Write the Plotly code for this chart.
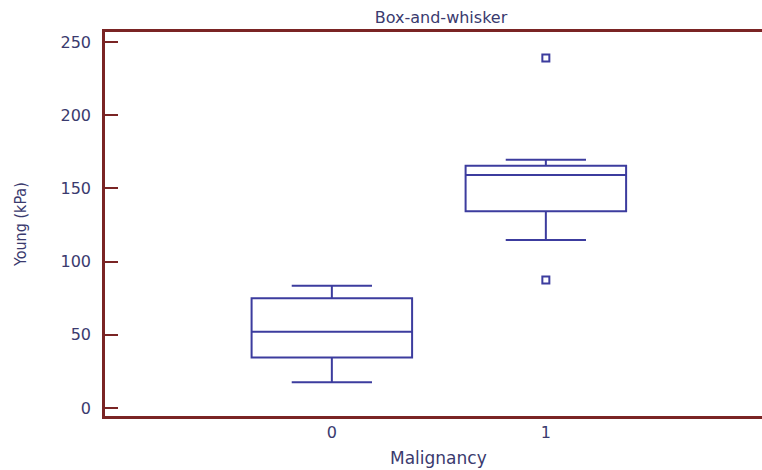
import plotly.graph_objects as go

# Data
categories = [0, 1]
q1_vals = [34.4, 134.3]
median_vals = [52.1, 159.2]
q3_vals = [74.9, 165.5]
lower_whisker = [17.5, 114.8]
upper_whisker = [83.5, 169.6]
outlier_x = [1, 1]
outlier_y = [239.1, 87.4]
y_ticks = [0, 50, 100, 150, 200, 250]
x_tick_labels = ["0", "1"]

AXIS = "#7a2424"
TEXT = "#3a3a6e"
BOX = "#3c3c9e"
FONT = "DejaVu Sans, Verdana, sans-serif"
NARROW = "Liberation Sans Narrow, DejaVu Sans Condensed, sans-serif"

fig = go.Figure()
fig.add_trace(go.Box(
    x=categories,
    q1=q1_vals,
    median=median_vals,
    q3=q3_vals,
    lowerfence=lower_whisker,
    upperfence=upper_whisker,
    width=0.75,
    whiskerwidth=0.5,
    boxpoints=False,
    line=dict(color=BOX, width=2),
    fillcolor="rgba(255,255,255,0)",
    showlegend=False,
    hoverinfo="skip",
))
fig.add_trace(go.Scatter(
    x=outlier_x,
    y=outlier_y,
    mode="markers",
    marker=dict(symbol="square-open", size=7, color=BOX, line=dict(width=2, color=BOX)),
    showlegend=False,
    hoverinfo="skip",
))

fig.update_layout(
    width=762,
    height=470,
    margin=dict(l=105, r=0, t=32, b=54, autoexpand=False),
    paper_bgcolor="white",
    plot_bgcolor="white",
    font=dict(family=FONT, size=16, color=TEXT),
    title=dict(
        text="Box-and-whisker",
        x=441 / 762,
        xanchor="center",
        y=1 - 17 / 470,
        yanchor="middle",
        font=dict(family=FONT, size=16, color=TEXT),
    ),
    xaxis=dict(
        range=[-1.06, 2.01],
        tickmode="array",
        tickvals=categories,
        ticktext=x_tick_labels,
        ticks="",
        showgrid=False,
        zeroline=False,
        showline=True,
        linecolor=AXIS,
        linewidth=2.5,
        mirror=True,
        automargin=False,
        tickfont=dict(family=FONT, size=16, color=TEXT),
    ),
    yaxis=dict(
        range=[-5.5, 256.8],
        tickmode="array",
        tickvals=y_ticks,
        ticks="inside",
        ticklen=13,
        tickwidth=2,
        tickcolor=AXIS,
        ticklabelstandoff=8,
        showgrid=False,
        zeroline=False,
        showline=True,
        linecolor=AXIS,
        linewidth=2.5,
        automargin=False,
        tickfont=dict(family=FONT, size=16, color=TEXT),
    ),
    annotations=[
        dict(
            text="Malignancy", xref="paper", yref="paper",
            x=(438 - 105) / 657, y=-(458 - 416) / 384,
            xanchor="center", yanchor="middle", showarrow=False,
            font=dict(family=FONT, size=17, color=TEXT),
        ),
        dict(
            text="Young (kPa)", xref="paper", yref="paper",
            x=-(105 - 20) / 657, y=(416 - 225) / 384,
            xanchor="center", yanchor="middle", showarrow=False, textangle=-90,
            font=dict(family=NARROW, size=16, color=TEXT),
        ),
    ],
)

fig.write_html(
    "out.html",
    config={"displayModeBar": False},
    post_script="document.body.style.margin='0';document.body.style.overflow='hidden';",
)
